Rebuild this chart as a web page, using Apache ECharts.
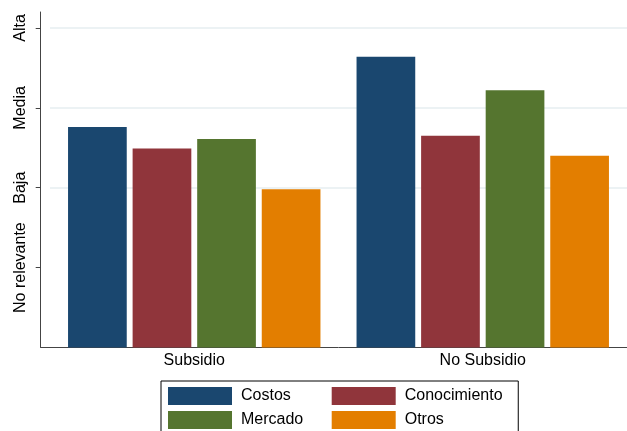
<!DOCTYPE html>
<html>
<head>
<meta charset="utf-8">
<script src="https://cdn.jsdelivr.net/npm/echarts@6/dist/echarts.min.js"></script>
<style>
  html, body { margin: 0; padding: 0; background: #fff; }
  #chart { width: 627px; height: 431px; }
</style>
</head>
<body>
<div id="chart"></div>
<script>
  // datos
  const categories = ['Subsidio', 'No Subsidio'];
  const levelLabels = ['', 'No relevante', 'Baja', 'Media', 'Alta'];
  const levelTicks = [1, 2, 3, 4];
  const costos = [2.76, 3.64];
  const conocimiento = [2.49, 2.65];
  const mercado = [2.61, 3.22];
  const otros = [1.98, 2.40];
  const seriesNames = ['Costos', 'Conocimiento', 'Mercado', 'Otros'];
  const seriesColors = ['#1a476f', '#90353b', '#55752f', '#e37e00'];

  const font = "'Liberation Sans', Arial, Helvetica, sans-serif";
  const chart = echarts.init(document.getElementById('chart'));

  const seriesData = [costos, conocimiento, mercado, otros];
  const series = seriesNames.map((name, i) => ({
    name: name,
    type: 'bar',
    data: seriesData[i],
    barWidth: 58.7,
    barGap: '10%',
    itemStyle: { color: seriesColors[i] }
  }));

  // leyenda en dos columnas: una leyenda vertical por columna
  const legendBase = {
    orient: 'vertical',
    top: 381,
    height: 60,
    icon: 'rect',
    itemWidth: 64,
    itemHeight: 18,
    itemGap: 6,
    textStyle: {
      fontSize: 16,
      color: '#000',
      fontFamily: font,
      padding: [0, 0, 0, 4]
    }
  };

  const option = {
    animation: false,
    backgroundColor: '#fff',
    color: seriesColors,
    grid: { left: 50, right: -2.4, top: 12, bottom: 83.5 },
    legend: [
      Object.assign({}, legendBase, {
        data: [seriesNames[0], seriesNames[2]],
        left: 161,
        padding: [6, 215, 6, 7],
        borderColor: '#000',
        borderWidth: 1
      }),
      Object.assign({}, legendBase, {
        data: [seriesNames[1], seriesNames[3]],
        left: 331.7,
        padding: [6, 0, 6, 0]
      })
    ],
    xAxis: {
      type: 'category',
      data: categories,
      axisLine: { lineStyle: { color: '#444', width: 1 } },
      axisTick: { show: false },
      axisLabel: { fontSize: 16, color: '#000', fontFamily: font, margin: 5 }
    },
    yAxis: {
      type: 'value',
      min: 0,
      max: 4.2,
      interval: 1,
      offset: 9.3,
      axisLine: { show: true, lineStyle: { color: '#444', width: 1 } },
      axisTick: { show: true, length: 5, customValues: levelTicks, lineStyle: { color: '#444' } },
      axisLabel: {
        customValues: levelTicks,
        rotate: 90,
        margin: 12,
        fontSize: 16,
        color: '#000',
        fontFamily: font,
        formatter: v => levelLabels[Math.round(v)] || ''
      },
      splitLine: {
        show: true,
        lineStyle: {
          color: ['rgba(0,0,0,0)', '#e6eef0', '#e6eef0', '#e6eef0', '#e6eef0', 'rgba(0,0,0,0)'],
          width: 1.5
        }
      }
    },
    graphic: [{
      type: 'line',
      shape: { x1: 40.7, y1: 347.5, x2: 50, y2: 347.5 },
      style: { stroke: '#444', lineWidth: 1 }
    }],
    series: series
  };

  chart.setOption(option);
</script>
</body>
</html>
